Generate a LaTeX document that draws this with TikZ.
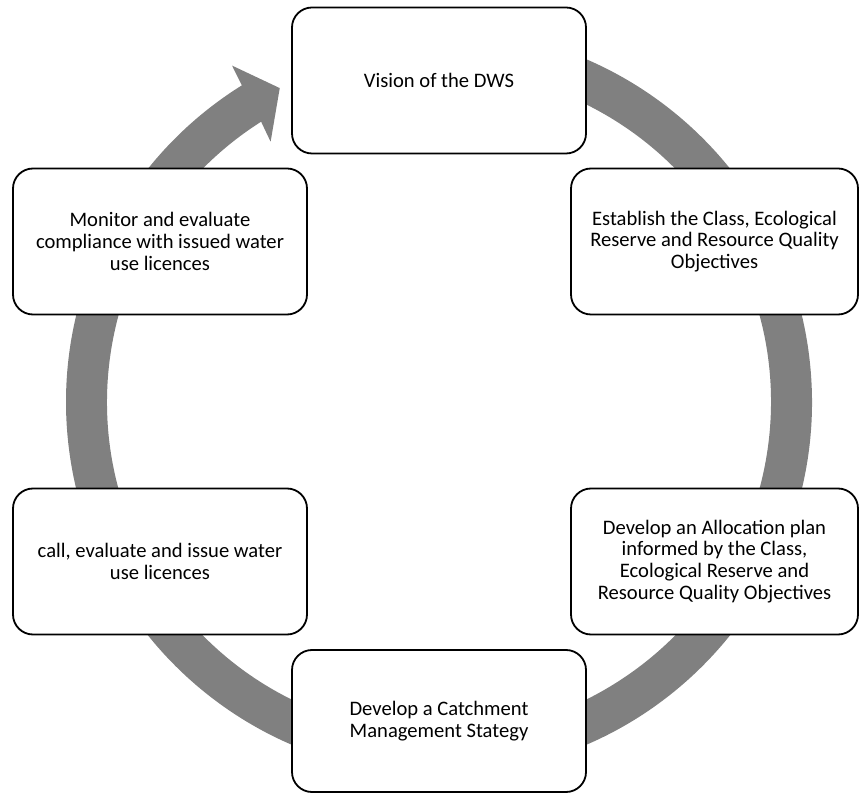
\documentclass[tikz,border=0pt]{standalone}
\usepackage{fontspec}
\setmainfont{Carlito}
\begin{document}
\begin{tikzpicture}[x=1pt,y=1pt,
  stagebox/.style={draw=black, line width=1.8pt, fill=white, rounded corners=20pt,
    minimum width=294pt, minimum height=146pt, inner sep=0pt, align=center,
    font=\fontsize{20.6}{21.8}\selectfont},
  ringfill/.style={fill=ringgrey, draw=none}]
\definecolor{ringgrey}{HTML}{808080}
\useasboundingbox (0,0) rectangle (859,793);
\coordinate (c) at (439,391);
% circular arrow ring
\begin{scope}[shift={(c)}]
\fill[ringfill] (95:373pt) arc[start angle=95, end angle=-238.1, radius=373pt]
  -- (-238.4:395pt) -- (-243.1:352pt) -- (-237.1:310pt) -- (-237.6:332pt)
  arc[start angle=-237.6, end angle=95, radius=332pt] -- cycle;
\end{scope}
% stages
\node[stagebox] (vision) at (439,712.5) {Vision of the DWS};
\node[stagebox, minimum width=287pt] (establish) at (714.5,551.5) {Establish the Class, Ecological\\Reserve and Resource Quality\\Objectives};
\node[stagebox, minimum width=287pt] (allocation) at (714.5,231.5) {Develop an Allocation plan\\informed by the Class,\\Ecological Reserve and\\Resource Quality Objectives};
\node[stagebox, minimum height=142pt] (catchment) at (439,72) {Develop a Catchment\\Management Stategy};
\node[stagebox] (call) at (160,231.5) {call, evaluate and issue water\\use licences};
\node[stagebox] (monitor) at (160,551.5) {Monitor and evaluate\\compliance with issued water\\use licences};
\end{tikzpicture}
\end{document}
